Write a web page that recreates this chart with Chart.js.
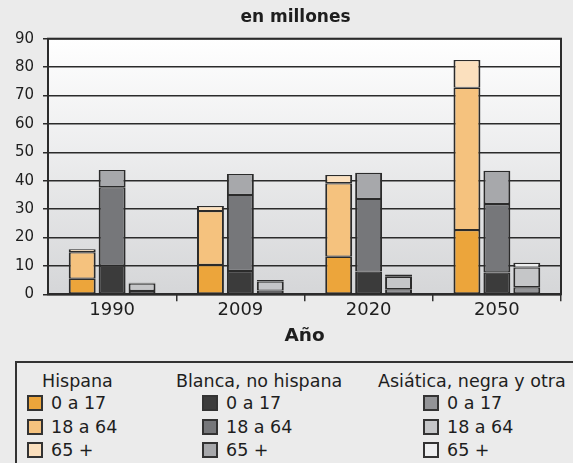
<!DOCTYPE html>
<html>
<head>
    <meta charset="utf-8">
    <title>en millones</title>
    <script src="https://cdn.jsdelivr.net/npm/chart.js@4"></script>
    <style>
        body { margin: 0; background: #ebebeb; }
        #wrap { position: relative; width: 573px; height: 463px; overflow: hidden; }
        #chart { position: absolute; left: 0; top: 0; }
        #legend {
            position: absolute; left: 15px; top: 361px; width: 580px; height: 120px;
            border: 2px solid #333; box-sizing: border-box;
            font-family: "DejaVu Sans", sans-serif; font-size: 17.5px; color: #1e1e1e;
        }
        #legend .head, #legend .item { position: absolute; white-space: nowrap; line-height: 20px; }
        #legend .sw { display: inline-block; width: 16px; height: 16px; box-sizing: border-box;
            border: 2px solid #333; vertical-align: -2px; margin-right: 8px; }
    </style>
</head>
<body>
<div id="wrap">
    <canvas id="chart" width="573" height="352"></canvas>
    <div id="legend"></div>
</div>
<script>
    // data (millions)
    const years = ['1990', '2009', '2020', '2050'];
    const groups = ['Hispana', 'Blanca, no hispana', 'Asiática, negra y otra'];
    const ageGroups = ['0 a 17', '18 a 64', '65 +'];

    const hisp0_17 = [5.5, 10.3, 13.2, 22.6];
    const hisp18_64 = [9.3, 19.0, 25.9, 50.1];
    const hisp65 = [1.1, 1.8, 2.9, 9.8];

    const blanca0_17 = [10.1, 8.2, 8.0, 7.7];
    const blanca18_64 = [27.6, 26.8, 25.6, 24.1];
    const blanca65 = [6.1, 7.4, 9.2, 11.7];

    const asia0_17 = [1.2, 1.3, 1.8, 2.5];
    const asia18_64 = [2.6, 3.2, 4.4, 6.9];
    const asia65 = [0.3, 0.5, 0.8, 1.7];

    const yTicks = [0, 10, 20, 30, 40, 50, 60, 70, 80, 90];
    const chartTitle = 'en millones';

    const colors = [
        ['#eca53b', '#f5c27e', '#fbe0be'],
        ['#3b3b3b', '#76777a', '#a7a8ab'],
        ['#939497', '#c5c6c8', '#eeeff0']
    ];
    const series = [
        [hisp0_17, hisp18_64, hisp65],
        [blanca0_17, blanca18_64, blanca65],
        [asia0_17, asia18_64, asia65]
    ];

    const datasets = [];
    groups.forEach(function (g, gi) {
        ageGroups.forEach(function (a, ai) {
            datasets.push({
                label: g + ' ' + a,
                data: series[gi][ai],
                stack: 's' + gi,
                backgroundColor: colors[gi][ai],
                borderColor: '#2b2b2b',
                borderWidth: { left: 2, right: 2, top: 1.2, bottom: 1.2 },
                borderSkipped: false,
                categoryPercentage: 0.70,
                barPercentage: 0.9
            });
        });
    });

    const plotBg = {
        id: 'plotBg',
        beforeDraw(chart) {
            const ctx = chart.ctx, a = chart.chartArea;
            ctx.save();
            const g = ctx.createLinearGradient(0, a.top, 0, a.bottom);
            g.addColorStop(0, '#ffffff');
            g.addColorStop(1, '#d5d6d8');
            ctx.fillStyle = g;
            ctx.fillRect(a.left, a.top, a.right - a.left, a.bottom - a.top);
            ctx.restore();
        },
        beforeDatasetsDraw(chart) {
            const ctx = chart.ctx, a = chart.chartArea;
            ctx.save();
            ctx.strokeStyle = '#2b2b2b';
            ctx.lineWidth = 2;
            ctx.strokeRect(a.left, a.top, a.right - a.left, a.bottom - a.top);
            ctx.restore();
        },
        afterDraw(chart) {
            // title sits a little right of the canvas centre, as in the source
            const ctx = chart.ctx;
            ctx.save();
            ctx.font = 'bold 17px "DejaVu Sans"';
            ctx.fillStyle = '#1e1e1e';
            ctx.textAlign = 'center';
            ctx.textBaseline = 'middle';
            ctx.fillText(chartTitle, 295.5, 18);
            ctx.restore();
        }
    };

    new Chart(document.getElementById('chart'), {
        type: 'bar',
        data: { labels: years, datasets: datasets },
        plugins: [plotBg],
        options: {
            responsive: false,
            animation: false,
            layout: { padding: { left: 0, right: 12, top: 38.7, bottom: 0 } },
            plugins: {
                legend: { display: false },
                tooltip: { enabled: false },
                title: { display: false }
            },
            scales: {
                x: {
                    stacked: true,
                    afterFit: function (s) { s.height = 57.7; },
                    grid: {
                        offset: true,
                        drawOnChartArea: false,
                        tickLength: 7,
                        lineWidth: 1.5,
                        color: function (c) { return (c.index === 0 || c.index === years.length) ? 'rgba(0,0,0,0)' : '#333'; }
                    },
                    border: { color: '#2b2b2b', width: 2 },
                    ticks: {
                        color: '#1e1e1e',
                        padding: 0,
                        font: { family: 'DejaVu Sans', size: 18, lineHeight: 1 }
                    },
                    title: {
                        display: true,
                        text: 'Año',
                        color: '#1e1e1e',
                        font: { family: 'DejaVu Sans', size: 18.5, weight: 'bold', lineHeight: 1.2 },
                        padding: { top: 0, bottom: 5 }
                    }
                },
                y: {
                    stacked: true,
                    min: 0,
                    max: 90,
                    afterFit: function (s) { s.width = 48; },
                    afterBuildTicks: function (s) { s.ticks = yTicks.map(function (v) { return { value: v }; }); },
                    grid: { color: '#2b2b2b', lineWidth: 1.5, tickLength: 5 },
                    border: { color: '#2b2b2b', width: 2 },
                    ticks: {
                        color: '#1e1e1e',
                        padding: 9,
                        font: { family: 'DejaVu Sans', size: 15 }
                    }
                }
            }
        }
    });

    // grouped legend
    const headLeft = [25, 159, 361];
    const swatchLeft = [10, 185, 406];
    const legend = document.getElementById('legend');
    groups.forEach(function (g, gi) {
        const h = document.createElement('div');
        h.className = 'head';
        h.style.left = headLeft[gi] + 'px';
        h.style.top = '8px';
        h.textContent = g;
        legend.appendChild(h);
        ageGroups.forEach(function (a, ai) {
            const it = document.createElement('div');
            it.className = 'item';
            it.style.left = swatchLeft[gi] + 'px';
            it.style.top = (30 + ai * 23.7) + 'px';
            const sw = document.createElement('span');
            sw.className = 'sw';
            sw.style.background = colors[gi][ai];
            it.appendChild(sw);
            it.appendChild(document.createTextNode(a));
            legend.appendChild(it);
        });
    });
</script>
</body>
</html>
